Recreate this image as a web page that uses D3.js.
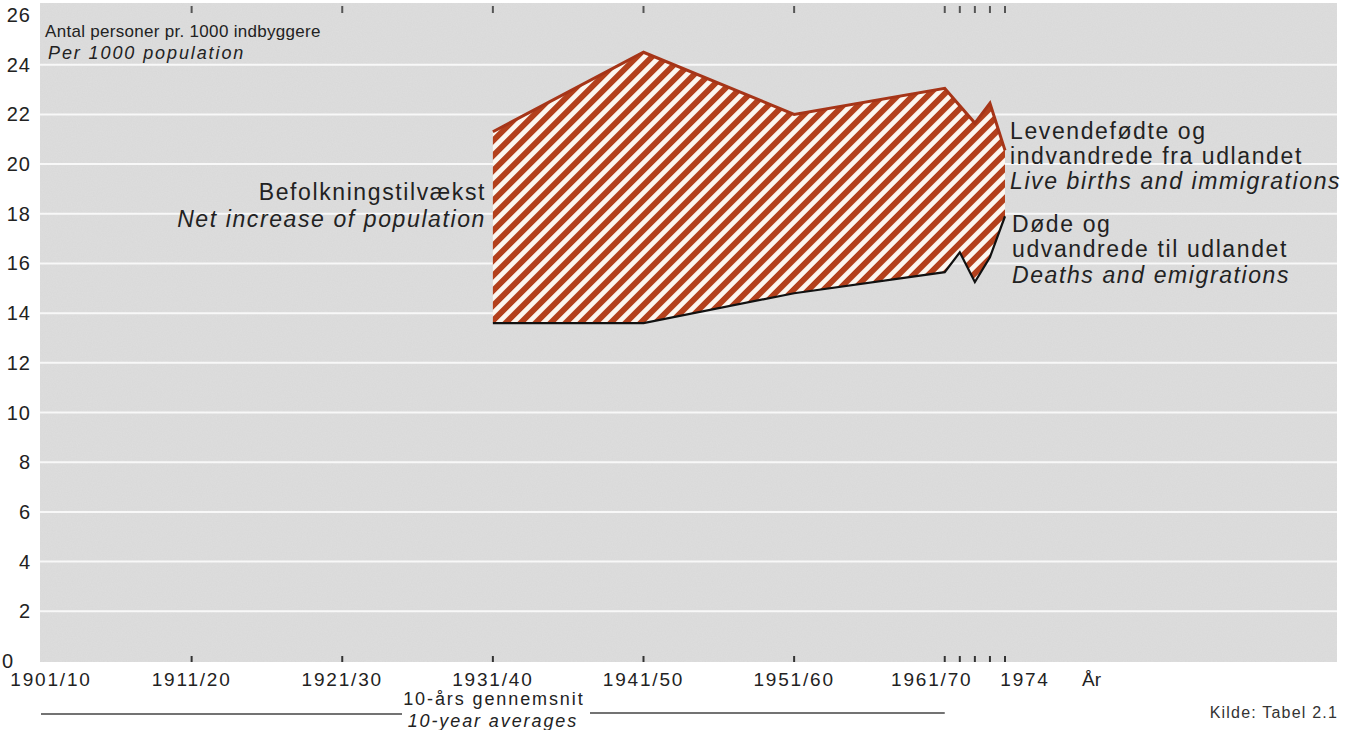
<!DOCTYPE html>
<html>
<head>
<meta charset="utf-8">
<script src="https://cdnjs.cloudflare.com/ajax/libs/d3/7.8.5/d3.min.js"></script>
<style>
  body { margin: 0; background: #fff; }
  svg text { font-family: "Liberation Sans", Arial, sans-serif; fill: #222; }
</style>
</head>
<body>
<svg id="chart" width="1351" height="730"></svg>
<script>
// Period labels along the x axis (position = years since 1901)
var periodLabels = ['1901/10', '1911/20', '1921/30', '1931/40', '1941/50', '1951/60', '1961/70', '1974'];
var periodPos = [0, 10, 20, 30, 40, 50, 60, 64];
var yearTickPos = [61, 62, 63, 64];

// Series: 10-year averages 1931/40 .. 1961/70, then single years 1971..1974
var seriesPos = [30, 40, 50, 60, 61, 62, 63, 64];
var birthsImmigrations = [21.3, 24.5, 22.0, 23.05, 22.35, 21.65, 22.45, 20.55];
var deathsEmigrations = [13.6, 13.6, 14.8, 15.65, 16.45, 15.25, 16.25, 17.9];

var yTicks = [0, 2, 4, 6, 8, 10, 12, 14, 16, 18, 20, 22, 24, 26];

(function drawChart() {
  var svg = d3.select('#chart');

  var plotLeft = 40, plotRight = 1337, plotTop = 3, plotBottom = 662;

  var x = d3.scaleLinear().domain([0, 64]).range([41, 1005]);
  var y = d3.scaleLinear().domain([0, 26]).range([661, 15]);

  var defs = svg.append('defs');

  // Hatch pattern for the net increase area
  var pat = defs.append('pattern')
    .attr('id', 'hatch')
    .attr('patternUnits', 'userSpaceOnUse')
    .attr('width', 10.6)
    .attr('height', 10.6)
    .attr('patternTransform', 'rotate(45)');
  pat.append('rect').attr('width', 10.6).attr('height', 10.6).attr('fill', '#fcf7f0');
  pat.append('rect').attr('x', 0).attr('width', 5.8).attr('height', 10.6).attr('fill', '#b3401c');

  // Paper-like grain for the grey background
  var grain = defs.append('filter').attr('id', 'grain')
    .attr('x', 0).attr('y', 0).attr('width', 1).attr('height', 1);
  grain.append('feTurbulence')
    .attr('type', 'fractalNoise').attr('baseFrequency', 0.8)
    .attr('numOctaves', 2).attr('seed', 3).attr('result', 'noise');
  grain.append('feColorMatrix')
    .attr('in', 'noise').attr('type', 'matrix')
    .attr('values', '0 0 0 0 0.55  0 0 0 0 0.55  0 0 0 0 0.55  0 0 0 0.22 0');

  // Grey background
  svg.append('rect')
    .attr('x', plotLeft).attr('y', plotTop)
    .attr('width', plotRight - plotLeft).attr('height', plotBottom - plotTop)
    .attr('fill', '#dedede');
  svg.append('rect')
    .attr('x', plotLeft).attr('y', plotTop)
    .attr('width', plotRight - plotLeft).attr('height', plotBottom - plotTop)
    .attr('filter', 'url(#grain)');

  // White gridlines
  svg.append('g').selectAll('line')
    .data(yTicks.filter(function(d) { return d > 0 && d < 26; }))
    .enter().append('line')
      .attr('x1', plotLeft).attr('x2', plotRight)
      .attr('y1', function(d) { return y(d); })
      .attr('y2', function(d) { return y(d); })
      .style('stroke', '#f8f8f8')
      .style('stroke-width', 2);

  // Small tick marks at top and bottom edges
  var tickPos = periodPos.filter(function(d) { return d > 0 && d < 60; })
    .concat([60]).concat(yearTickPos);
  var ticks = svg.append('g');
  ticks.selectAll('.tb')
    .data(tickPos).enter().append('line')
      .attr('x1', function(d) { return x(d); }).attr('x2', function(d) { return x(d); })
      .attr('y1', plotBottom - 6).attr('y2', plotBottom)
      .style('stroke', '#333').style('stroke-width', 2);
  ticks.selectAll('.tt')
    .data(tickPos).enter().append('line')
      .attr('x1', function(d) { return x(d); }).attr('x2', function(d) { return x(d); })
      .attr('y1', plotTop + 3).attr('y2', plotTop + 10)
      .style('stroke', '#555').style('stroke-width', 2);

  // Area between the two series
  var pts = seriesPos.map(function(p, i) {
    return { pos: p, hi: birthsImmigrations[i], lo: deathsEmigrations[i] };
  });
  var area = d3.area()
    .x(function(d) { return x(d.pos); })
    .y0(function(d) { return y(d.lo); })
    .y1(function(d) { return y(d.hi); });
  svg.append('path')
    .datum(pts)
    .attr('d', area)
    .attr('fill', 'url(#hatch)');

  var upper = d3.line().x(function(d) { return x(d.pos); }).y(function(d) { return y(d.hi); });
  var lower = d3.line().x(function(d) { return x(d.pos); }).y(function(d) { return y(d.lo); });
  svg.append('path').datum(pts).attr('d', upper)
    .style('fill', 'none').style('stroke', '#a63518').style('stroke-width', 3);
  svg.append('path').datum(pts).attr('d', lower)
    .style('fill', 'none').style('stroke', '#111').style('stroke-width', 2.2);

  // Y axis labels
  svg.append('g').selectAll('text')
    .data(yTicks).enter().append('text')
      .attr('x', function(d) { return d === 0 ? 14 : 31; })
      .attr('y', function(d) { return y(d) + 7; })
      .attr('text-anchor', 'end')
      .style('font-size', '20px')
      .style('letter-spacing', '1px')
      .text(function(d) { return d; });

  // X axis labels
  svg.append('g').selectAll('text')
    .data(periodLabels).enter().append('text')
      .attr('x', function(d, i) {
        var px = x(periodPos[i]);
        if (i === 0) return px + 10;
        if (d === '1961/70') return px - 13;
        if (d === '1974') return px + 20;
        return px;
      })
      .attr('y', 686)
      .attr('text-anchor', 'middle')
      .style('font-size', '19px')
      .style('letter-spacing', '1.8px')
      .text(function(d) { return d; });
  svg.append('text')
    .attr('x', 1082).attr('y', 686)
    .style('font-size', '19px')
    .text('År');

  // 10-year averages note
  svg.append('text')
    .attr('x', x(30) + 1).attr('y', 705)
    .attr('text-anchor', 'middle')
    .style('font-size', '18px').style('letter-spacing', '1.9px')
    .text('10-års gennemsnit');
  svg.append('text')
    .attr('x', x(30)).attr('y', 727)
    .attr('text-anchor', 'middle')
    .style('font-size', '18px').style('letter-spacing', '1.9px')
    .style('font-style', 'italic')
    .text('10-year averages');
  svg.append('line')
    .attr('x1', x(0)).attr('x2', 402).attr('y1', 714).attr('y2', 714)
    .style('stroke', '#444').style('stroke-width', 1.5);
  svg.append('line')
    .attr('x1', 590).attr('x2', x(60)).attr('y1', 713).attr('y2', 713)
    .style('stroke', '#444').style('stroke-width', 1.5);

  // Source
  svg.append('text')
    .attr('x', 1338).attr('y', 718)
    .attr('text-anchor', 'end')
    .style('font-size', '16px').style('letter-spacing', '1.2px')
    .style('fill', '#333')
    .text('Kilde: Tabel 2.1');

  // Unit label
  svg.append('text')
    .attr('x', 45).attr('y', 37)
    .style('font-size', '17px').style('letter-spacing', '0.3px')
    .text('Antal personer pr. 1000 indbyggere');
  svg.append('text')
    .attr('x', 48).attr('y', 59)
    .style('font-size', '18px').style('letter-spacing', '1.9px')
    .style('font-style', 'italic')
    .text('Per 1000 population');

  // Annotations
  function label(xp, yp, txt, italic, anchor) {
    svg.append('text')
      .attr('x', xp).attr('y', yp)
      .attr('text-anchor', anchor || 'start')
      .style('font-size', '23px')
      .style('letter-spacing', '1.6px')
      .style('font-style', italic ? 'italic' : 'normal')
      .text(txt);
  }
  label(486, 200, 'Befolkningstilvækst', false, 'end');
  label(486, 227, 'Net increase of population', true, 'end');

  label(1010, 139, 'Levendefødte og', false);
  label(1010, 164, 'indvandrede fra udlandet', false);
  label(1010, 189, 'Live births and immigrations', true);
  label(1012, 232, 'Døde og', false);
  label(1012, 257, 'udvandrede til udlandet', false);
  label(1012, 283, 'Deaths and emigrations', true);
}());
</script>
</body>
</html>
